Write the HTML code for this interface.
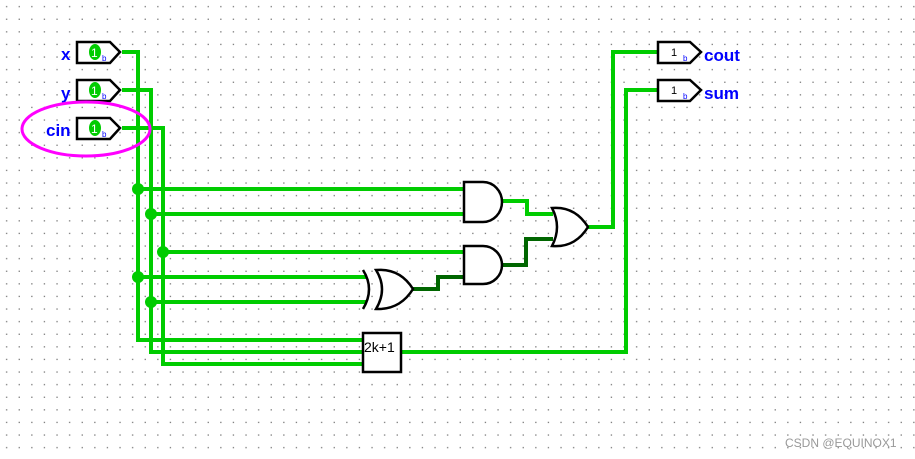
<!DOCTYPE html>
<html><head><style>body{margin:0;background:#fff}svg{display:block}</style></head><body>
<svg width="915" height="459" xmlns="http://www.w3.org/2000/svg" font-family="Liberation Sans, sans-serif">
<defs><pattern id="g" width="12.6" height="12.6" patternUnits="userSpaceOnUse" x="1" y="1"><rect x="5" y="5" width="1.3" height="1.3" fill="#777"/></pattern></defs>
<rect width="915" height="459" fill="url(#g)"/>
<g stroke="#00cc00" stroke-width="4" fill="none">
<polyline points="122,52 138,52 138,340 363,340"/>
<polyline points="122,90 151,90 151,352 363,352"/>
<polyline points="122,128 163,128 163,364 363,364"/>
<line x1="138" y1="189" x2="465" y2="189"/>
<line x1="151" y1="214" x2="465" y2="214"/>
<line x1="163" y1="252" x2="465" y2="252"/>
<line x1="138" y1="277" x2="366" y2="277"/>
<line x1="151" y1="302" x2="366" y2="302"/>
<polyline points="501,201 527,201 527,214 553,214"/>
<polyline points="588,227 613,227 613,52 660,52"/>
<polyline points="401,352 626,352 626,90 660,90"/>
</g>
<g stroke="#006600" stroke-width="4" fill="none">
<polyline points="413,289 438,289 438,277 465,277"/>
<polyline points="501,265 526,265 526,239 553,239"/>
</g>
<g fill="#00cc00">
<circle cx="138" cy="189" r="6"/><circle cx="151" cy="214" r="6"/><circle cx="163" cy="252" r="6"/><circle cx="138" cy="277" r="6"/><circle cx="151" cy="302" r="6"/>
</g>
<g stroke="#000" stroke-width="2.5" fill="#fff">
<path d="M464,182 H483 A19,20 0 0 1 483,222 H464 Z"/>
<path d="M464,246 H483 A19,19 0 0 1 483,284 H464 Z"/>
<path d="M552,208 Q575,206 588,227 Q575,248 552,246 Q562,227 552,208 Z"/>
<path d="M376,270 Q400,268 413,289 Q400,310 376,309 Q388,289 376,270 Z"/>
<path d="M363,270 Q375,289 363,309" fill="none"/>
<rect x="363" y="333" width="38" height="39"/>
</g>
<text x="364" y="352" font-size="14">2k+1</text>
<g stroke="#000" stroke-width="2.5" fill="#fff">
<path d="M77,42 H110 L120,52 L110,63 H77 Z"/>
<path d="M77,80 H110 L120,90 L110,101 H77 Z"/>
<path d="M77,118 H110 L120,128 L110,139 H77 Z"/>
<path d="M658,42 H690 L701,52 L690,63 H658 Z"/>
<path d="M658,80 H690 L701,90 L690,101 H658 Z"/>
</g>
<g fill="#00cc00"><ellipse cx="95" cy="52" rx="6" ry="8"/><ellipse cx="95" cy="90" rx="6" ry="8"/><ellipse cx="95" cy="128" rx="6" ry="8"/></g>
<g fill="#fff" font-size="12"><text x="91" y="57">1</text><text x="91" y="95">1</text><text x="91" y="133">1</text></g>
<g fill="#00f" font-size="8"><text x="102" y="61">b</text><text x="102" y="99">b</text><text x="102" y="137">b</text><text x="683" y="61">b</text><text x="683" y="99">b</text></g>
<g fill="#000" font-size="11"><text x="671" y="56">1</text><text x="671" y="94">1</text></g>
<g fill="#00f" font-size="17" font-weight="bold">
<text x="61" y="60">x</text><text x="61" y="99">y</text><text x="46" y="136">cin</text>
<text x="704" y="61">cout</text><text x="704" y="99">sum</text>
</g>
<ellipse cx="86" cy="129" rx="64" ry="27" fill="none" stroke="#ff00ff" stroke-width="3"/>
<text x="785" y="447" font-size="12" fill="#999">CSDN @EQUINOX1</text>
</svg>
</body></html>
